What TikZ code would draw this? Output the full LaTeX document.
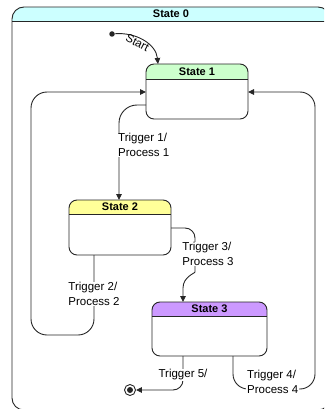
\documentclass[tikz,border=0pt]{standalone}
\usepackage{fontspec}
\setmainfont{Liberation Sans}
\usetikzlibrary{arrows.meta,calc,fit}

\definecolor{headcyan}{HTML}{CCFFFF}
\definecolor{headgreen}{HTML}{CCFFCC}
\definecolor{headyellow}{HTML}{FFFF99}
\definecolor{headviolet}{HTML}{CC99FF}
\definecolor{ink}{HTML}{262626}

\tikzset{
  stateframe/.style={inner sep=0pt, outer sep=0pt, draw=none},
  stateline/.style={draw=ink, line width=0.9pt},
  statetitle/.style={font=\fontsize{11}{13}\selectfont\bfseries, inner sep=0pt},
  edge/.style={draw=ink, line width=0.9pt, -{Triangle[length=6pt,width=5.5pt]}},
  lbl/.style={fill=white, inner sep=1pt, align=left, font=\fontsize{11.5}{14.5}\selectfont},
  slopedlbl/.style={inner sep=0.5pt, font=\fontsize{11.5}{14}\selectfont},
  initdot/.style={circle, fill=ink, inner sep=0pt, minimum size=5.5pt},
  finalstate/.style={circle, draw=ink, line width=0.9pt, inner sep=0pt, minimum size=11pt}
}

% state box: name, corner, corner, header height, header colour, title, corner radius
\newcommand{\umlstate}[7]{%
  \node[stateframe, fit={#2 #3}] (#1) {};
  \begin{scope}
    \clip[rounded corners=#7] (#1.north west) rectangle (#1.south east);
    \fill[#5] (#1.north west) rectangle ($(#1.north east)+(0,#4)$);
  \end{scope}
  \draw[stateline] ($(#1.north west)+(0,#4)$) -- ($(#1.north east)+(0,#4)$);
  \draw[stateline, rounded corners=#7] (#1.north west) rectangle (#1.south east);
  \node[statetitle] (#1-title) at ($(#1.north)+(0,#4/2)$) {#6};
}

\begin{document}
\begin{tikzpicture}[x=1pt, y=-1pt]
  \useasboundingbox (0,0) rectangle (324,409);
  \clip (0,0) rectangle (324,409);

  % composite state and its substates
  \umlstate{s0}{(12,7)}{(330,410)}{14}{headcyan}{State 0}{12pt}
  \umlstate{s1}{(146,64)}{(248,119)}{15}{headgreen}{State 1}{8pt}
  \umlstate{s2}{(69,200)}{(171,255)}{14}{headyellow}{State 2}{8pt}
  \umlstate{s3}{(152,302)}{(267,356)}{14}{headviolet}{State 3}{8pt}

  % pseudo states
  \node[initdot] (init) at (112,34) {};
  \node[finalstate] (fin) at (130,390) {};
  \fill[ink] (fin.center) circle (3pt);

  % free corners of the loops
  \coordinate (c2) at (31,335);
  \coordinate (c4) at (315,389);

  % transitions
  \draw[edge] (init) .. controls (136,32) and (156,44) .. ($(s1.north west)+(12,0)$)
    node[slopedlbl, sloped, below, pos=0.42] (lstart) {Start};
  \draw[edge, rounded corners=18pt] ($(s1.north west)+(0,41)$) -| ($(s2.north west)+(50,0)$);
  \draw[edge, rounded corners=16pt] ($(s2.south west)+(25,0)$) |- (c2) |- ($(s1.north west)+(0,28)$);
  \draw[edge, rounded corners=10pt] ($(s2.north east)+(0,28)$) -- (195,228) -- (195,262)
    [sharp corners] to[out=-90, in=90] (183,288) -- ($(s3.north west)+(31,0)$);
  \draw[edge, rounded corners=15pt] ($(s3.south west)+(81,0)$) |- (c4) |- ($(s1.north east)+(0,28)$);
  \draw[edge, rounded corners=10pt] ($(s3.south west)+(31,0)$) |- (fin);

  % transition labels
  \node[lbl, anchor=west] (l1) at (117,145) {Trigger 1/\\Process 1};
  \node[lbl] (l2) at (94,294) {Trigger 2/\\Process 2};
  \node[lbl] (l3) at (208,254) {Trigger 3/\\Process 3};
  \node[lbl, anchor=west] (l4) at (246,382) {Trigger 4/\\Process 4};
  \node[lbl] (l5) at (183,375) {Trigger 5/};
\end{tikzpicture}
\end{document}
